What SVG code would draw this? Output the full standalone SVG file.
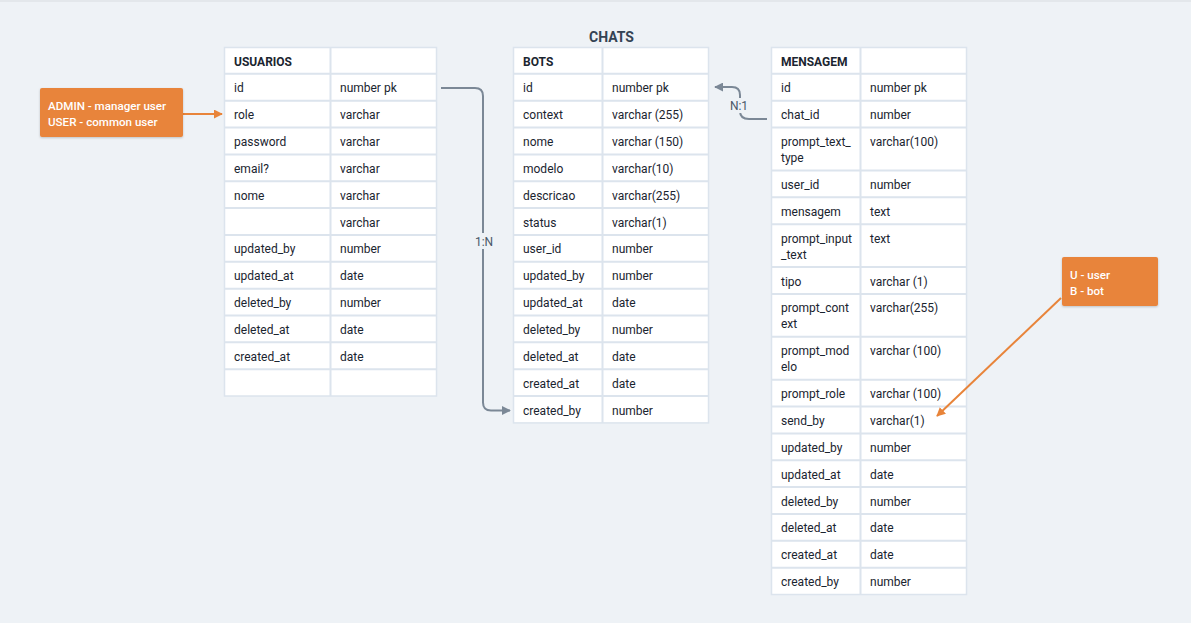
<svg xmlns="http://www.w3.org/2000/svg" width="1191" height="623" viewBox="0 0 1191 623">
<defs>
<style>
.bg{fill:#eef2f6}
.tbl{fill:#ffffff;stroke:#dce4ed;stroke-width:1.5}
.grid{stroke:#dce4ed;stroke-width:2;fill:none}
.t{font-family:Roboto,"Liberation Sans",sans-serif;font-size:12px;fill:#1a242f}
.h{font-family:Roboto,"Liberation Sans",sans-serif;font-size:12px;font-weight:700;fill:#1b2530}
.title{font-family:Roboto,"Liberation Sans",sans-serif;font-size:14px;font-weight:700;fill:#344354}
.conn{fill:none;stroke:#7b8896;stroke-width:2}
.lbl{font-family:Roboto,"Liberation Sans",sans-serif;font-size:12px;fill:#4a5868}
.note{fill:#e8843a}
.nt{font-family:Roboto,"Liberation Sans",sans-serif;font-size:11.6px;font-weight:500;fill:#ffffff}
.oline{fill:none;stroke:#e8843a;stroke-width:2}
</style>
<marker id="ag" viewBox="0 0 10 10" refX="9" refY="5" markerWidth="4.5" markerHeight="4.5" orient="auto">
<path d="M0,0 L10,5 L0,10 z" fill="#7b8896"/>
</marker>
<marker id="ao" viewBox="0 0 10 10" refX="9" refY="5" markerWidth="4.5" markerHeight="4.5" orient="auto">
<path d="M0,0 L10,5 L0,10 z" fill="#e8843a"/>
</marker>
<filter id="sh" x="-10%" y="-10%" width="120%" height="130%">
<feDropShadow dx="0" dy="1" stdDeviation="1" flood-color="#000" flood-opacity="0.2"/>
</filter>
</defs>
<rect class="bg" x="0" y="0" width="1191" height="623"/>
<rect x="0" y="0" width="1191" height="2" fill="#e3e7eb"/>
<text class="title" x="611.5" y="42" text-anchor="middle">CHATS</text>

<g id="usuarios">
<rect class="tbl" x="224.5" y="47.5" width="212" height="348.5"/>
<path class="grid" d="M330.5,47.5V396 M224.5,73.85H436.5 M224.5,100.7H436.5 M224.5,127.55H436.5 M224.5,154.4H436.5 M224.5,181.25H436.5 M224.5,208.1H436.5 M224.5,234.95H436.5 M224.5,261.8H436.5 M224.5,288.65H436.5 M224.5,315.5H436.5 M224.5,342.35H436.5 M224.5,369.2H436.5"/>
<text class="h" x="234" y="65.5">USUARIOS</text>
<text class="t" x="234" y="92.3">id</text><text class="t" x="340" y="92.3">number pk</text>
<text class="t" x="234" y="119.2">role</text><text class="t" x="340" y="119.2">varchar</text>
<text class="t" x="234" y="146">password</text><text class="t" x="340" y="146">varchar</text>
<text class="t" x="234" y="172.9">email?</text><text class="t" x="340" y="172.9">varchar</text>
<text class="t" x="234" y="199.7">nome</text><text class="t" x="340" y="199.7">varchar</text>
<text class="t" x="340" y="226.6">varchar</text>
<text class="t" x="234" y="253.4">updated_by</text><text class="t" x="340" y="253.4">number</text>
<text class="t" x="234" y="280.3">updated_at</text><text class="t" x="340" y="280.3">date</text>
<text class="t" x="234" y="307.1">deleted_by</text><text class="t" x="340" y="307.1">number</text>
<text class="t" x="234" y="334">deleted_at</text><text class="t" x="340" y="334">date</text>
<text class="t" x="234" y="360.8">created_at</text><text class="t" x="340" y="360.8">date</text>
</g>

<g id="bots">
<rect class="tbl" x="513.5" y="47.5" width="195" height="375.4"/>
<path class="grid" d="M602.5,47.5V422.9 M513.5,73.85H708.5 M513.5,100.7H708.5 M513.5,127.55H708.5 M513.5,154.4H708.5 M513.5,181.25H708.5 M513.5,208.1H708.5 M513.5,234.95H708.5 M513.5,261.8H708.5 M513.5,288.65H708.5 M513.5,315.5H708.5 M513.5,342.35H708.5 M513.5,369.2H708.5 M513.5,396.05H708.5"/>
<text class="h" x="523" y="65.5">BOTS</text>
<text class="t" x="523" y="92.3">id</text><text class="t" x="612" y="92.3">number pk</text>
<text class="t" x="523" y="119.2">context</text><text class="t" x="612" y="119.2">varchar (255)</text>
<text class="t" x="523" y="146">nome</text><text class="t" x="612" y="146">varchar (150)</text>
<text class="t" x="523" y="172.9">modelo</text><text class="t" x="612" y="172.9">varchar(10)</text>
<text class="t" x="523" y="199.7">descricao</text><text class="t" x="612" y="199.7">varchar(255)</text>
<text class="t" x="523" y="226.6">status</text><text class="t" x="612" y="226.6">varchar(1)</text>
<text class="t" x="523" y="253.4">user_id</text><text class="t" x="612" y="253.4">number</text>
<text class="t" x="523" y="280.3">updated_by</text><text class="t" x="612" y="280.3">number</text>
<text class="t" x="523" y="307.1">updated_at</text><text class="t" x="612" y="307.1">date</text>
<text class="t" x="523" y="334">deleted_by</text><text class="t" x="612" y="334">number</text>
<text class="t" x="523" y="360.8">deleted_at</text><text class="t" x="612" y="360.8">date</text>
<text class="t" x="523" y="387.7">created_at</text><text class="t" x="612" y="387.7">date</text>
<text class="t" x="523" y="414.5">created_by</text><text class="t" x="612" y="414.5">number</text>
</g>

<g id="mensagem">
<rect class="tbl" x="771.5" y="47.5" width="195" height="547"/>
<path class="grid" d="M860.5,47.5V594.5 M771.5,73.85H966.5 M771.5,100.7H966.5 M771.5,127.55H966.5 M771.5,170.45H966.5 M771.5,197.3H966.5 M771.5,224.15H966.5 M771.5,267.05H966.5 M771.5,293.9H966.5 M771.5,336.8H966.5 M771.5,379.7H966.5 M771.5,406.55H966.5 M771.5,433.4H966.5 M771.5,460.25H966.5 M771.5,487.1H966.5 M771.5,513.95H966.5 M771.5,540.8H966.5 M771.5,567.65H966.5"/>
<text class="h" x="781" y="65.5">MENSAGEM</text>
<text class="t" x="781" y="92.3">id</text><text class="t" x="870" y="92.3">number pk</text>
<text class="t" x="781" y="119.2">chat_id</text><text class="t" x="870" y="119.2">number</text>
<text class="t" x="781" y="146">prompt_text_</text><text class="t" x="781" y="162">type</text><text class="t" x="870" y="146">varchar(100)</text>
<text class="t" x="781" y="188.9">user_id</text><text class="t" x="870" y="188.9">number</text>
<text class="t" x="781" y="215.7">mensagem</text><text class="t" x="870" y="215.7">text</text>
<text class="t" x="781" y="242.6">prompt_input</text><text class="t" x="781" y="258.6">_text</text><text class="t" x="870" y="242.6">text</text>
<text class="t" x="781" y="285.5">tipo</text><text class="t" x="870" y="285.5">varchar (1)</text>
<text class="t" x="781" y="312.4">prompt_cont</text><text class="t" x="781" y="328.4">ext</text><text class="t" x="870" y="312.4">varchar(255)</text>
<text class="t" x="781" y="355.3">prompt_mod</text><text class="t" x="781" y="371.3">elo</text><text class="t" x="870" y="355.3">varchar (100)</text>
<text class="t" x="781" y="398.2">prompt_role</text><text class="t" x="870" y="398.2">varchar (100)</text>
<text class="t" x="781" y="425">send_by</text><text class="t" x="870" y="425">varchar(1)</text>
<text class="t" x="781" y="451.9">updated_by</text><text class="t" x="870" y="451.9">number</text>
<text class="t" x="781" y="478.7">updated_at</text><text class="t" x="870" y="478.7">date</text>
<text class="t" x="781" y="505.6">deleted_by</text><text class="t" x="870" y="505.6">number</text>
<text class="t" x="781" y="532.4">deleted_at</text><text class="t" x="870" y="532.4">date</text>
<text class="t" x="781" y="559.3">created_at</text><text class="t" x="870" y="559.3">date</text>
<text class="t" x="781" y="586.1">created_by</text><text class="t" x="870" y="586.1">number</text>
</g>

<g id="connectors">
<path class="conn" d="M441,88 L475,88 Q483,88 483,96 L483,402.5 Q483,410.5 491,410.5 L510,410.5" marker-end="url(#ag)"/>
<rect class="bg" x="472" y="233" width="24" height="16"/>
<text class="lbl" x="484" y="245.5" text-anchor="middle">1:N</text>
<path class="conn" d="M767,119 L749,119 Q740,119 740,111 L740,95 Q740,87 732,87 L715,87" marker-end="url(#ag)"/>
<rect class="bg" x="728" y="98" width="22" height="15"/>
<text class="lbl" x="739" y="109.5" text-anchor="middle">N:1</text>
<path class="oline" d="M183,114 L222,114" marker-end="url(#ao)"/>
<path class="oline" d="M1061,298 L937,416" marker-end="url(#ao)"/>
</g>

<g id="note-roles">
<rect class="note" x="40" y="88" width="143" height="49" rx="2" filter="url(#sh)"/>
<text class="nt" x="48" y="109.5">ADMIN - manager user</text>
<text class="nt" x="48" y="125.5">USER - common user</text>
</g>

<g id="note-sendby">
<rect class="note" x="1062" y="257" width="96" height="49" rx="2" filter="url(#sh)"/>
<text class="nt" x="1070" y="278.5">U - user</text>
<text class="nt" x="1070" y="294.5">B - bot</text>
</g>
</svg>
